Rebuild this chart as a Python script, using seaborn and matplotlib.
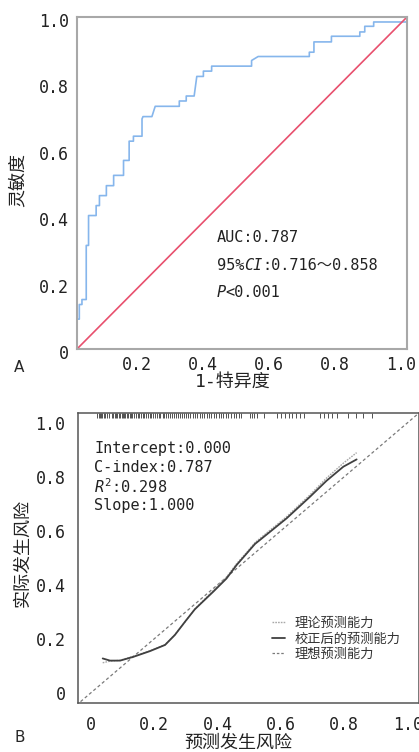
import numpy as np
import pandas as pd
import matplotlib
matplotlib.use("Agg")
import matplotlib.pyplot as plt
import matplotlib.transforms as mtransforms
import seaborn as sns
from matplotlib.lines import Line2D

# ---------------- data ----------------
# ROC curve (panel A)
roc_fpr = [0, 0, 0.007, 0.007, 0.015, 0.015, 0.028, 0.028, 0.035, 0.035, 0.058, 0.058,
           0.068, 0.068, 0.089, 0.089, 0.111, 0.111, 0.141, 0.141, 0.158, 0.158, 0.171,
           0.171, 0.197, 0.197, 0.200, 0.227, 0.237, 0.310, 0.310, 0.331, 0.331, 0.355,
           0.363, 0.383, 0.383, 0.408, 0.408, 0.529, 0.529, 0.549, 0.704, 0.704, 0.718,
           0.718, 0.771, 0.771, 0.857, 0.857, 0.872, 0.872, 0.899, 0.899, 1.0, 1.0]
roc_tpr = [0, 0.090, 0.090, 0.134, 0.134, 0.149, 0.149, 0.312, 0.312, 0.402, 0.402, 0.432,
           0.432, 0.462, 0.462, 0.492, 0.492, 0.523, 0.523, 0.568, 0.568, 0.626, 0.626,
           0.641, 0.641, 0.693, 0.700, 0.700, 0.731, 0.731, 0.747, 0.747, 0.762, 0.762,
           0.821, 0.821, 0.837, 0.837, 0.852, 0.852, 0.869, 0.881, 0.881, 0.894, 0.894,
           0.925, 0.925, 0.942, 0.942, 0.955, 0.955, 0.972, 0.972, 0.985, 0.985, 1.0]
roc_ticks = [0, 0.2, 0.4, 0.6, 0.8, 1.0]
roc_ylabels = ["0", "0.2", "0.4", "0.6", "0.8", "1.0"]
roc_xticks = [0.2, 0.4, 0.6, 0.8, 1.0]
roc_xlabels = ["0.2", "0.4", "0.6", "0.8", "1.0"]

# Calibration curve (panel B)
cal_pred = [0.037, 0.060, 0.092, 0.134, 0.186, 0.234, 0.265, 0.297, 0.328, 0.386,
            0.428, 0.460, 0.492, 0.518, 0.555, 0.618, 0.692, 0.744, 0.797, 0.839]
cal_apparent = [0.111, 0.117, 0.120, 0.135, 0.155, 0.178, 0.215, 0.262, 0.310, 0.378,
                0.428, 0.478, 0.520, 0.556, 0.592, 0.652, 0.733, 0.795, 0.850, 0.889]
cal_corrected = [0.127, 0.119, 0.119, 0.133, 0.154, 0.177, 0.214, 0.263, 0.309, 0.374,
                 0.423, 0.473, 0.516, 0.551, 0.586, 0.646, 0.726, 0.785, 0.837, 0.864]
ideal = [-0.06, 1.06]
rug_pred = [0.019, 0.024, 0.028, 0.031, 0.036, 0.041, 0.045, 0.052, 0.058, 0.066, 0.071,
            0.075, 0.079, 0.083, 0.088, 0.092, 0.097, 0.101, 0.104, 0.109, 0.113, 0.118,
            0.122, 0.127, 0.131, 0.136, 0.142, 0.147, 0.152, 0.158, 0.163, 0.168, 0.174,
            0.179, 0.185, 0.191, 0.196, 0.203, 0.208, 0.214, 0.219, 0.226, 0.232, 0.238,
            0.243, 0.249, 0.256, 0.261, 0.268, 0.274, 0.281, 0.287, 0.293, 0.301, 0.307,
            0.314, 0.322, 0.329, 0.335, 0.343, 0.351, 0.358, 0.366, 0.372, 0.379, 0.388,
            0.395, 0.403, 0.410, 0.418, 0.425, 0.433, 0.442, 0.451, 0.458, 0.466, 0.474,
            0.502, 0.509, 0.515, 0.523, 0.545, 0.588, 0.601, 0.612, 0.625, 0.636, 0.648,
            0.661, 0.672, 0.722, 0.735, 0.748, 0.762, 0.776, 0.812, 0.838, 0.858, 0.889]
cal_ticks = [0, 0.2, 0.4, 0.6, 0.8, 1.0]
cal_labels = ["0", "0.2", "0.4", "0.6", "0.8", "1.0"]
legend_labels = ["理论预测能力", "校正后的预测能力", "理想预测能力"]

# ---------------- style ----------------
sns.set_theme(style="white")
FAM = ['DejaVu Sans Mono', 'Noto Sans CJK SC']
plt.rcParams['font.family'] = FAM
plt.rcParams['mathtext.fontset'] = 'custom'
plt.rcParams['mathtext.rm'] = 'DejaVu Sans Mono'
plt.rcParams['mathtext.it'] = 'DejaVu Sans Mono:oblique'
plt.rcParams['axes.unicode_minus'] = False
TXT = "#222222"

fig = plt.figure(figsize=(4.19, 7.52), dpi=100)

# ---------------- panel A ----------------
axA = fig.add_axes([77/419, 1-349/752, 330/419, 332/752])
dfA = pd.DataFrame({"fpr": roc_fpr, "tpr": roc_tpr})
sns.lineplot(data=dfA, x="fpr", y="tpr", sort=False, estimator=None,
             color="#86b6ec", lw=1.2, ax=axA)
sns.lineplot(x=[0, 1], y=[0, 1], color="#e8506e", lw=1.2, ax=axA)
axA.set_xlim(0, 1)
axA.set_ylim(0, 1)
axA.set_yticks(roc_ticks)
axA.set_yticklabels(roc_ylabels)
axA.set_xticks(roc_xticks)
axA.set_xticklabels(roc_xlabels)
axA.tick_params(axis='both', length=0, labelsize=12, colors=TXT)
axA.tick_params(axis='y', pad=6)
axA.tick_params(axis='x', pad=5)
shift_x = mtransforms.ScaledTranslation(-6/100, 0, fig.dpi_scale_trans)
for lab in axA.get_xticklabels():
    lab.set_transform(lab.get_transform() + shift_x)
shift_y = mtransforms.ScaledTranslation(0, -3/100, fig.dpi_scale_trans)
for lab in axA.get_yticklabels():
    lab.set_transform(lab.get_transform() + shift_y)
for s in axA.spines.values():
    s.set_color("#a8a8a8")
    s.set_linewidth(1.5)
axA.set_xlabel("1-特异度", fontsize=13, va='center', color=TXT)
axA.xaxis.set_label_coords((233-77)/330, (349-382)/332)
axA.set_ylabel("灵敏度", fontsize=13, va='center', color=TXT)
axA.yaxis.set_label_coords((18-77)/330, (349-180)/332)
axA.text(0.423, 0.337, "AUC:0.787", fontsize=11, va='center', color=TXT)
t1 = axA.text(0.423, 0.251, "95%", fontsize=11, va='center', color=TXT)
t2 = axA.annotate("CI", xy=(1, 0.5), xycoords=t1, va='center', ha='left',
                  fontsize=11, color=TXT, fontstyle='italic')
axA.annotate(":0.716～0.858", xy=(1, 0.5), xycoords=t2, va='center', ha='left',
             fontsize=11, color=TXT)
t3 = axA.text(0.423, 0.171, "P", fontsize=11, va='center', color=TXT, fontstyle='italic')
axA.annotate("<0.001", xy=(1, 0.5), xycoords=t3, va='center', ha='left',
             fontsize=11, color=TXT)
fig.text(14/419, 1-368/752, "A", fontsize=11, ha='left', va='center', family='DejaVu Sans')

# ---------------- panel B ----------------
axB = fig.add_axes([78/419, 1-703/752, (419-78)/419, 290.3/752])
dfB = pd.DataFrame({"pred": cal_pred, "apparent": cal_apparent, "corrected": cal_corrected})
sns.lineplot(x=ideal, y=ideal, color="#7a7a7a", lw=0.9, ax=axB,
             linestyle=(0, (2.5, 2)))
sns.lineplot(data=dfB, x="pred", y="apparent", color="#a8a8a8", lw=1.0, ax=axB,
             linestyle=(0, (1.2, 0.8)))
sns.lineplot(data=dfB, x="pred", y="corrected", color="#404040", lw=1.3, ax=axB)
axB.vlines(rug_pred, 0.981, 1.0, transform=axB.get_xaxis_transform(),
           color="#505050", lw=0.7)
axB.set_xlim(-0.041, 1.036)
axB.set_ylim(-0.038, 1.037)
axB.set_xticks(cal_ticks)
axB.set_xticklabels(cal_labels)
axB.set_yticks(cal_ticks)
axB.set_yticklabels(cal_labels)
axB.tick_params(axis='both', length=5, width=1, color="#888888",
                labelsize=12, labelcolor=TXT, direction='out')
axB.tick_params(axis='y', pad=4)
axB.tick_params(axis='x', pad=4)
for s in axB.spines.values():
    s.set_color("#555555")
    s.set_linewidth(1.1)
axB.set_xlabel("预测发生风险", fontsize=13, va='center', color=TXT)
axB.xaxis.set_label_coords((238-78)/341, (703-743)/290.3)
axB.set_ylabel("实际发生风险", fontsize=13, va='center', color=TXT)
axB.yaxis.set_label_coords((23-78)/341, (703-553)/290.3)
axB.text(0.01, 0.905, "Intercept:0.000", fontsize=11, va='center', color=TXT)
axB.text(0.01, 0.835, "C-index:0.787", fontsize=11, va='center', color=TXT)
axB.text(0.01, 0.763, "$R^2$:0.298", fontsize=11, va='center', color=TXT)
axB.text(0.01, 0.693, "Slope:1.000", fontsize=11, va='center', color=TXT)

handles = [Line2D([], [], color="#a8a8a8", lw=1.0, linestyle=(0, (1.2, 0.8))),
           Line2D([], [], color="#404040", lw=1.3),
           Line2D([], [], color="#7a7a7a", lw=0.9, linestyle=(0, (2.0, 1.5)))]
leg = axB.legend(handles, legend_labels, loc='upper left',
                 bbox_to_anchor=(272/419, 1-617/752), bbox_transform=fig.transFigure,
                 frameon=False, fontsize=9.5, handlelength=1.0, handletextpad=0.7,
                 labelspacing=0.18, borderpad=0, borderaxespad=0)
for t in leg.get_texts():
    t.set_color("#333333")
fig.text(14/419, 1-738/752, "B", fontsize=11, ha='left', va='center', family='DejaVu Sans')

fig.savefig("out.png", dpi=100)
